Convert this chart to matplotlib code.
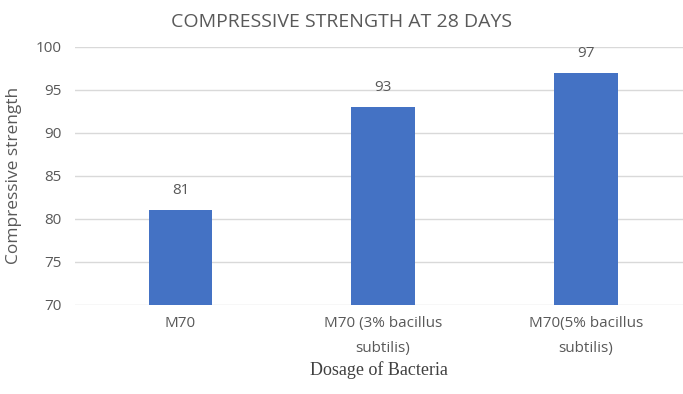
import matplotlib.pyplot as plt

categories = ["M70", "M70 (3% bacillus\nsubtilis)", "M70(5% bacillus\nsubtilis)"]
strength = [81, 93, 97]
yticks = [70, 75, 80, 85, 90, 95, 100]

text_col = "#595959"
bar_col = "#4472C4"

fig = plt.figure(figsize=(6.83, 3.94), dpi=100)
ax = fig.add_axes([0.11, 0.226, 0.89, 0.655])

x = range(len(categories))
bars = ax.bar(x, strength, width=0.315, color=bar_col, zorder=3)
for rect, v in zip(bars, strength):
    ax.text(rect.get_x() + rect.get_width() / 2, v + 1.4, str(v),
            ha="center", va="bottom", fontsize=11, color=text_col,
            family="Open Sans")

ax.set_xlim(-0.52, 2.48)
ax.set_ylim(70, 100)
ax.set_yticks(yticks)
ax.set_xticks(list(x))
ax.set_xticklabels(categories, fontsize=11, color=text_col, family="Open Sans",
                   linespacing=1.9)
ax.tick_params(axis="y", labelsize=11, labelcolor=text_col, length=0, pad=10)
ax.tick_params(axis="x", length=0, pad=8)
for lbl in ax.get_yticklabels():
    lbl.set_family("Open Sans")

ax.grid(axis="y", color="#d9d9d9", linewidth=1, zorder=0)
for s in ax.spines.values():
    s.set_visible(False)

ax.set_ylabel("Compressive strength", fontsize=12.5, color=text_col,
              family="Open Sans")
ax.yaxis.set_label_coords(-0.088, 0.5)
ax.set_xlabel("Dosage of Bacteria", fontsize=13, color="#404040",
              family="Liberation Serif", labelpad=4)
fig.text(0.5, 0.945, "COMPRESSIVE STRENGTH AT 28 DAYS", ha="center", va="center",
         fontsize=14, color=text_col, family="Open Sans")

fig.savefig("out.png", dpi=100)
